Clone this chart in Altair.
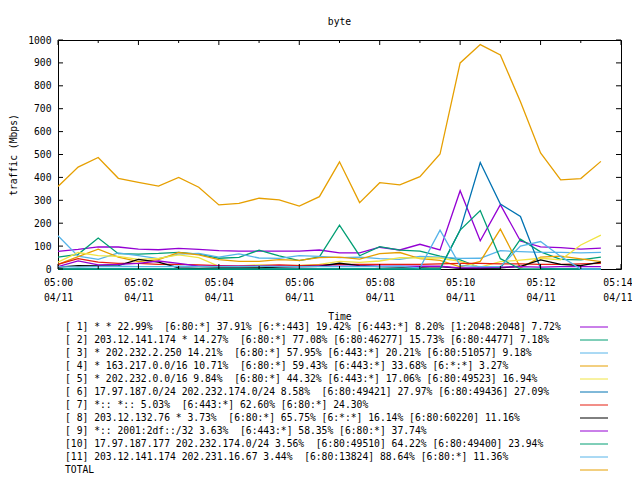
import altair as alt
import pandas as pd

# ---- data ----
times = ["05:00:00", "05:00:30", "05:01:00", "05:01:30", "05:02:00", "05:02:30", "05:03:00",
         "05:03:30", "05:04:00", "05:04:30", "05:05:00", "05:05:30", "05:06:00", "05:06:30",
         "05:07:00", "05:07:30", "05:08:00", "05:08:30", "05:09:00", "05:09:30", "05:10:00",
         "05:10:30", "05:11:00", "05:11:30", "05:12:00", "05:12:30", "05:13:00", "05:13:30"]

s1 = [77, 86, 97, 96, 87, 84, 90, 86, 80, 78, 78, 78, 78, 83, 70, 70, 95, 83, 108, 83, 342, 123, 281, 122, 97, 93, 87, 91]
s2 = [52, 64, 135, 67, 65, 68, 73, 65, 47, 51, 82, 57, 37, 53, 191, 58, 98, 82, 78, 56, 40, 5, 3, 130, 75, 42, 40, 52]
s3 = [145, 56, 42, 70, 58, 45, 65, 68, 52, 66, 48, 46, 58, 55, 50, 52, 45, 42, 55, 52, 46, 47, 80, 76, 73, 73, 70, 73]
s4 = [20, 54, 87, 52, 32, 41, 72, 62, 41, 33, 33, 41, 38, 50, 52, 43, 67, 72, 45, 38, 9, 33, 174, 5, 52, 56, 44, 32]
s5 = [30, 72, 58, 55, 42, 46, 62, 50, 12, 14, 18, 16, 16, 20, 33, 29, 35, 50, 48, 48, 33, 8, 32, 39, 47, 40, 105, 148]
s6 = [0, 0, 0, 0, 0, 0, 0, 0, 0, 0, 0, 0, 0, 0, 0, 0, 0, 0, 0, 0, 170, 465, 284, 229, 3, 0, 0, 0]
s7 = [20, 45, 30, 25, 25, 20, 20, 18, 15, 12, 15, 18, 15, 17, 20, 20, 20, 20, 20, 22, 25, 25, 22, 22, 20, 20, 22, 25]
s8 = [8, 15, 13, 15, 42, 30, 5, 3, 5, 5, 5, 8, 10, 12, 25, 15, 10, 8, 8, 10, 3, 3, 5, 12, 40, 20, 15, 30]
s9 = [10, 35, 18, 20, 25, 35, 25, 12, 12, 12, 12, 12, 10, 12, 12, 12, 12, 12, 12, 12, 5, 5, 8, 10, 8, 10, 10, 10]
s10 = [0, 0, 0, 0, 0, 0, 0, 0, 0, 0, 0, 0, 0, 0, 0, 0, 0, 0, 0, 0, 170, 255, 45, 0, 0, 0, 0, 0]
s11 = [10, 8, 10, 12, 10, 10, 12, 10, 10, 10, 12, 10, 10, 10, 10, 10, 10, 12, 5, 170, 15, 10, 10, 100, 120, 55, 0, 0]
total = [360, 445, 487, 396, 378, 362, 400, 357, 280, 287, 309, 302, 275, 316, 468, 290, 377, 367, 403, 502, 900, 980, 935, 730, 507, 389, 395, 470]

series_values = [s1, s2, s3, s4, s5, s6, s7, s8, s9, s10, s11, total]
series_keys = ["s%02d" % (k + 1) for k in range(12)]
series_colors = ["#9400d3", "#009e73", "#56b4e9", "#e69f00", "#f0e442", "#0072b2",
                 "#e51e10", "#000000", "#9400d3", "#009e73", "#56b4e9", "#e69f00"]

legend_labels = [
    "[ 1] * * 22.99%  [6:80:*] 37.91% [6:*:443] 19.42% [6:443:*] 8.20% [1:2048:2048] 7.72%",
    "[ 2] 203.12.141.174 * 14.27%  [6:80:*] 77.08% [6:80:46277] 15.73% [6:80:4477] 7.18%",
    "[ 3] * 202.232.2.250 14.21%  [6:80:*] 57.95% [6:443:*] 20.21% [6:80:51057] 9.18%",
    "[ 4] * 163.217.0.0/16 10.71%  [6:80:*] 59.43% [6:443:*] 33.68% [6:*:*] 3.27%",
    "[ 5] * 202.232.0.0/16 9.84%  [6:80:*] 44.32% [6:443:*] 17.06% [6:80:49523] 16.94%",
    "[ 6] 17.97.187.0/24 202.232.174.0/24 8.58%  [6:80:49421] 27.97% [6:80:49436] 27.09%",
    "[ 7] *:: *:: 5.03%  [6:443:*] 62.60% [6:80:*] 24.30%",
    "[ 8] 203.12.132.76 * 3.73%  [6:80:*] 65.75% [6:*:*] 16.14% [6:80:60220] 11.16%",
    "[ 9] *:: 2001:2df::/32 3.63%  [6:443:*] 58.35% [6:80:*] 37.74%",
    "[10] 17.97.187.177 202.232.174.0/24 3.56%  [6:80:49510] 64.22% [6:80:49400] 23.94%",
    "[11] 203.12.141.174 202.231.16.67 3.44%  [6:80:13824] 88.64% [6:80:*] 11.36%",
    "TOTAL",
]

x_tick_minutes = list(range(0, 15))
y_tick_values = list(range(0, 1001, 100))

# ---- tables ----
def to_minutes(t):
    h, m, s = [int(p) for p in t.split(":")]
    return (h - 5) * 60 + m + s / 60.0

rows = []
for key, vals in zip(series_keys, series_values):
    for t, v in zip(times, vals):
        rows.append({"key": key, "minute": to_minutes(t), "value": v})
df = pd.DataFrame(rows)

leg = pd.DataFrame({
    "row": list(range(1, 13)),
    "label": [s.replace("  ", " \u00a0") for s in legend_labels],
    "key": series_keys,
})

xt = pd.DataFrame({"m": x_tick_minutes})
xt["major"] = xt["m"] % 2 == 0
yt = pd.DataFrame({"v": y_tick_values})

W, H = 563, 229
FONT = "DejaVu Sans Mono"
FS = 9.7
LW = 1.3

xscale = alt.Scale(domain=[0, 14], nice=False, zero=False)
yscale = alt.Scale(domain=[0, 1000], nice=False)
cscale = alt.Scale(domain=series_keys, range=series_colors)
rowscale = alt.Scale(domain=[1, 12], range=[287, 430])

xaxis = alt.Axis(
    values=list(range(0, 15, 2)),
    labelExpr="['05:' + (datum.value < 10 ? '0' : '') + datum.value, '04/11']",
    labelAlign={"condition": {"test": "datum.value == 14", "value": "right"}, "value": "center"},
    labelOffset={"condition": {"test": "datum.value == 14", "value": 11}, "value": 0},
    ticks=False, domain=False, grid=False,
    labelFont=FONT, labelFontSize=FS, labelColor="black",
    labelPadding=8, labelLineHeight=15, labelOverlap=False, labelFlush=False,
    title="Time", titleFont=FONT, titleFontSize=FS, titleFontWeight="normal",
    titleColor="black", titlePadding=10)

lines = alt.Chart(df).mark_line(strokeWidth=LW).encode(
    x=alt.X("minute:Q", scale=xscale, axis=xaxis),
    y=alt.Y("value:Q", scale=yscale, axis=alt.Axis(
        values=y_tick_values, format="d", ticks=False, domain=False, grid=False,
        labelFont=FONT, labelFontSize=FS, labelColor="black", labelPadding=7,
        labelOverlap=False,
        title="traffic (Mbps)", titleFont=FONT, titleFontSize=FS,
        titleFontWeight="normal", titleColor="black", titlePadding=9)),
    color=alt.Color("key:N", scale=cscale, legend=None),
    detail="key:N",
)

def xtick_layer(is_major, top):
    ln = 5 if is_major else 3
    if top:
        y0, y1 = 0, ln
    else:
        y0, y1 = H, H - ln
    return alt.Chart(xt).transform_filter(
        alt.datum.major if is_major else ~alt.datum.major
    ).mark_rule(color="black", strokeWidth=1).encode(
        x=alt.X("m:Q", scale=xscale, axis=xaxis),
        y=alt.value(y0), y2=alt.value(y1),
    )

def ytick_layer(left):
    x0, x1 = (0, 5) if left else (W, W - 5)
    return alt.Chart(yt).mark_rule(color="black", strokeWidth=1).encode(
        y=alt.Y("v:Q", scale=yscale, axis=None),
        x=alt.value(x0), x2=alt.value(x1),
    )

leg_text = alt.Chart(leg).mark_text(
    align="left", baseline="middle", font=FONT, fontSize=FS, color="black"
).encode(
    x=alt.value(7),
    y=alt.Y("row:Q", scale=rowscale, axis=None),
    text="label:N",
)

leg_lines = alt.Chart(leg).mark_rule(strokeWidth=1).encode(
    x=alt.value(522), x2=alt.value(550),
    y=alt.Y("row:Q", scale=rowscale, axis=None),
    color=alt.Color("key:N", scale=cscale, legend=None),
)

chart = alt.layer(
    lines,
    xtick_layer(True, True), xtick_layer(False, True),
    xtick_layer(True, False), xtick_layer(False, False),
    ytick_layer(True), ytick_layer(False),
    leg_text, leg_lines,
).resolve_scale(y="independent").properties(
    width=W, height=H,
    title=alt.TitleParams("byte", font=FONT, fontSize=FS, fontWeight="normal",
                          color="black", anchor="middle", offset=8),
    autosize=alt.AutoSizeParams(type="none"),
    padding={"left": 50, "top": 32, "right": 11, "bottom": 205},
    background="white",
).configure_view(stroke="black", strokeWidth=1)

chart.save("out.html", embed_options={"renderer": "svg", "actions": False})
